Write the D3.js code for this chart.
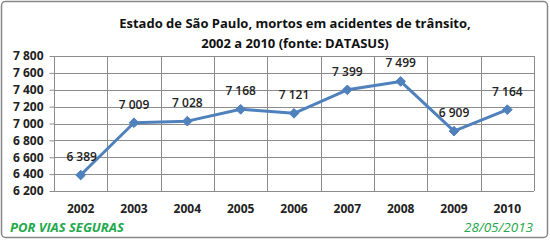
<!DOCTYPE html>
<html><head><meta charset="utf-8">
<script src="https://cdn.jsdelivr.net/npm/d3@7"></script>
<style>body{margin:0;background:#fff}svg{display:block}</style>
</head><body>
<script>
const years = ["2002","2003","2004","2005","2006","2007","2008","2009","2010"];
const deaths = [6389, 7009, 7028, 7168, 7121, 7399, 7499, 6909, 7164];
const yTicks = [6200, 6400, 6600, 6800, 7000, 7200, 7400, 7600, 7800];
const titleLines = ["Estado de São Paulo, mortos em acidentes de trânsito,", "2002 a 2010 (fonte: DATASUS)"];
const footLeft = "POR VIAS SEGURAS";
const footRight = "28/05/2013";

const W = 550, H = 240;
const svg = d3.select("body").append("svg").attr("width", W).attr("height", H);
svg.append("rect").attr("x",1.5).attr("y",1.5).attr("width",W-4).attr("height",H-4)
  .attr("rx",4).attr("fill","#fff").attr("stroke","#868686").attr("stroke-width",1.5);

const pL = 54, pR = 534, pT = 56, pB = 191;
const x = d3.scaleBand().domain(years).range([pL, pR]);
const y = d3.scaleLinear().domain([6200, 7800]).range([pB, pT]);
const fontF = "'Open Sans', 'Liberation Sans', sans-serif";
const fmt = v => d3.format(",")(v).replace(",", " ");

// gridlines
const g = svg.append("g");
g.selectAll("line.h").data(yTicks).join("line")
  .attr("x1", pL).attr("x2", pR).attr("y1", d=>Math.round(y(d))+0.5).attr("y2", d=>Math.round(y(d))+0.5)
  .attr("stroke","#8c8c8c").attr("stroke-width",1);
const bounds = years.map(d=>x(d)).concat([pR]);
g.selectAll("line.v").data(bounds).join("line")
  .attr("x1", d=>Math.round(d)+0.5).attr("x2", d=>Math.round(d)+0.5).attr("y1", pT).attr("y2", pB)
  .attr("stroke","#8c8c8c").attr("stroke-width",1);

// y axis
const yAxis = svg.append("g").attr("transform",`translate(${pL+0.5},0)`)
  .call(d3.axisLeft(y).tickValues(yTicks).tickSize(5).tickFormat(fmt));
yAxis.select(".domain").remove();
yAxis.selectAll(".tick line").attr("stroke","#8c8c8c");
yAxis.selectAll(".tick text").attr("font-family",fontF).attr("font-weight","bold").attr("font-size","12px").attr("fill","#222").attr("x",-11);

// x axis labels
const xAxis = svg.append("g").attr("transform",`translate(0,${pB})`)
  .call(d3.axisBottom(x).tickSize(0).tickPadding(13));
xAxis.select(".domain").remove();
xAxis.selectAll(".tick text").attr("font-family",fontF).attr("font-weight","bold").attr("font-size","12px").attr("fill","#222");

// line
const cx = d => x(d) + x.bandwidth()/2;
const pts = years.map((yr,i)=>[cx(yr), y(deaths[i])]);
svg.append("path").datum(pts).attr("d", d3.line()).attr("fill","none")
  .attr("stroke","#4f81bd").attr("stroke-width",3).attr("stroke-linejoin","round");
svg.selectAll("path.m").data(pts).join("path")
  .attr("d", d3.symbol(d3.symbolDiamond2, 60)).attr("transform", d=>`translate(${d[0]},${d[1]})`)
  .attr("fill","#4f81bd").attr("stroke","#4f81bd");

// labels
svg.selectAll("text.lab").data(years).join("text")
  .attr("x", (d,i)=> cx(d) + (i===0 ? 1 : 0))
  .attr("y", (d,i)=> y(deaths[i]) - 14)
  .attr("text-anchor","middle").attr("font-family",fontF).attr("font-weight","600").attr("font-size","12px").attr("fill","#222")
  .text((d,i)=> fmt(deaths[i]));

// title
svg.selectAll("text.t").data(titleLines).join("text")
  .attr("x", 295).attr("y",(d,i)=> 28 + i*20).attr("text-anchor","middle")
  .attr("font-family",fontF).attr("font-weight","bold").attr("font-size","13px").attr("fill","#111")
  .text(d=>d);

svg.append("text").attr("x",10).attr("y",232).attr("font-family",fontF).attr("font-weight","bold")
  .attr("font-style","italic").attr("font-size","13px").attr("fill","#22a84a").text(footLeft);
svg.append("text").attr("x",533).attr("y",232).attr("text-anchor","end").attr("font-family",fontF)
  .attr("font-style","italic").attr("font-size","13.5px").attr("fill","#22a84a").text(footRight);
</script>
</body></html>
